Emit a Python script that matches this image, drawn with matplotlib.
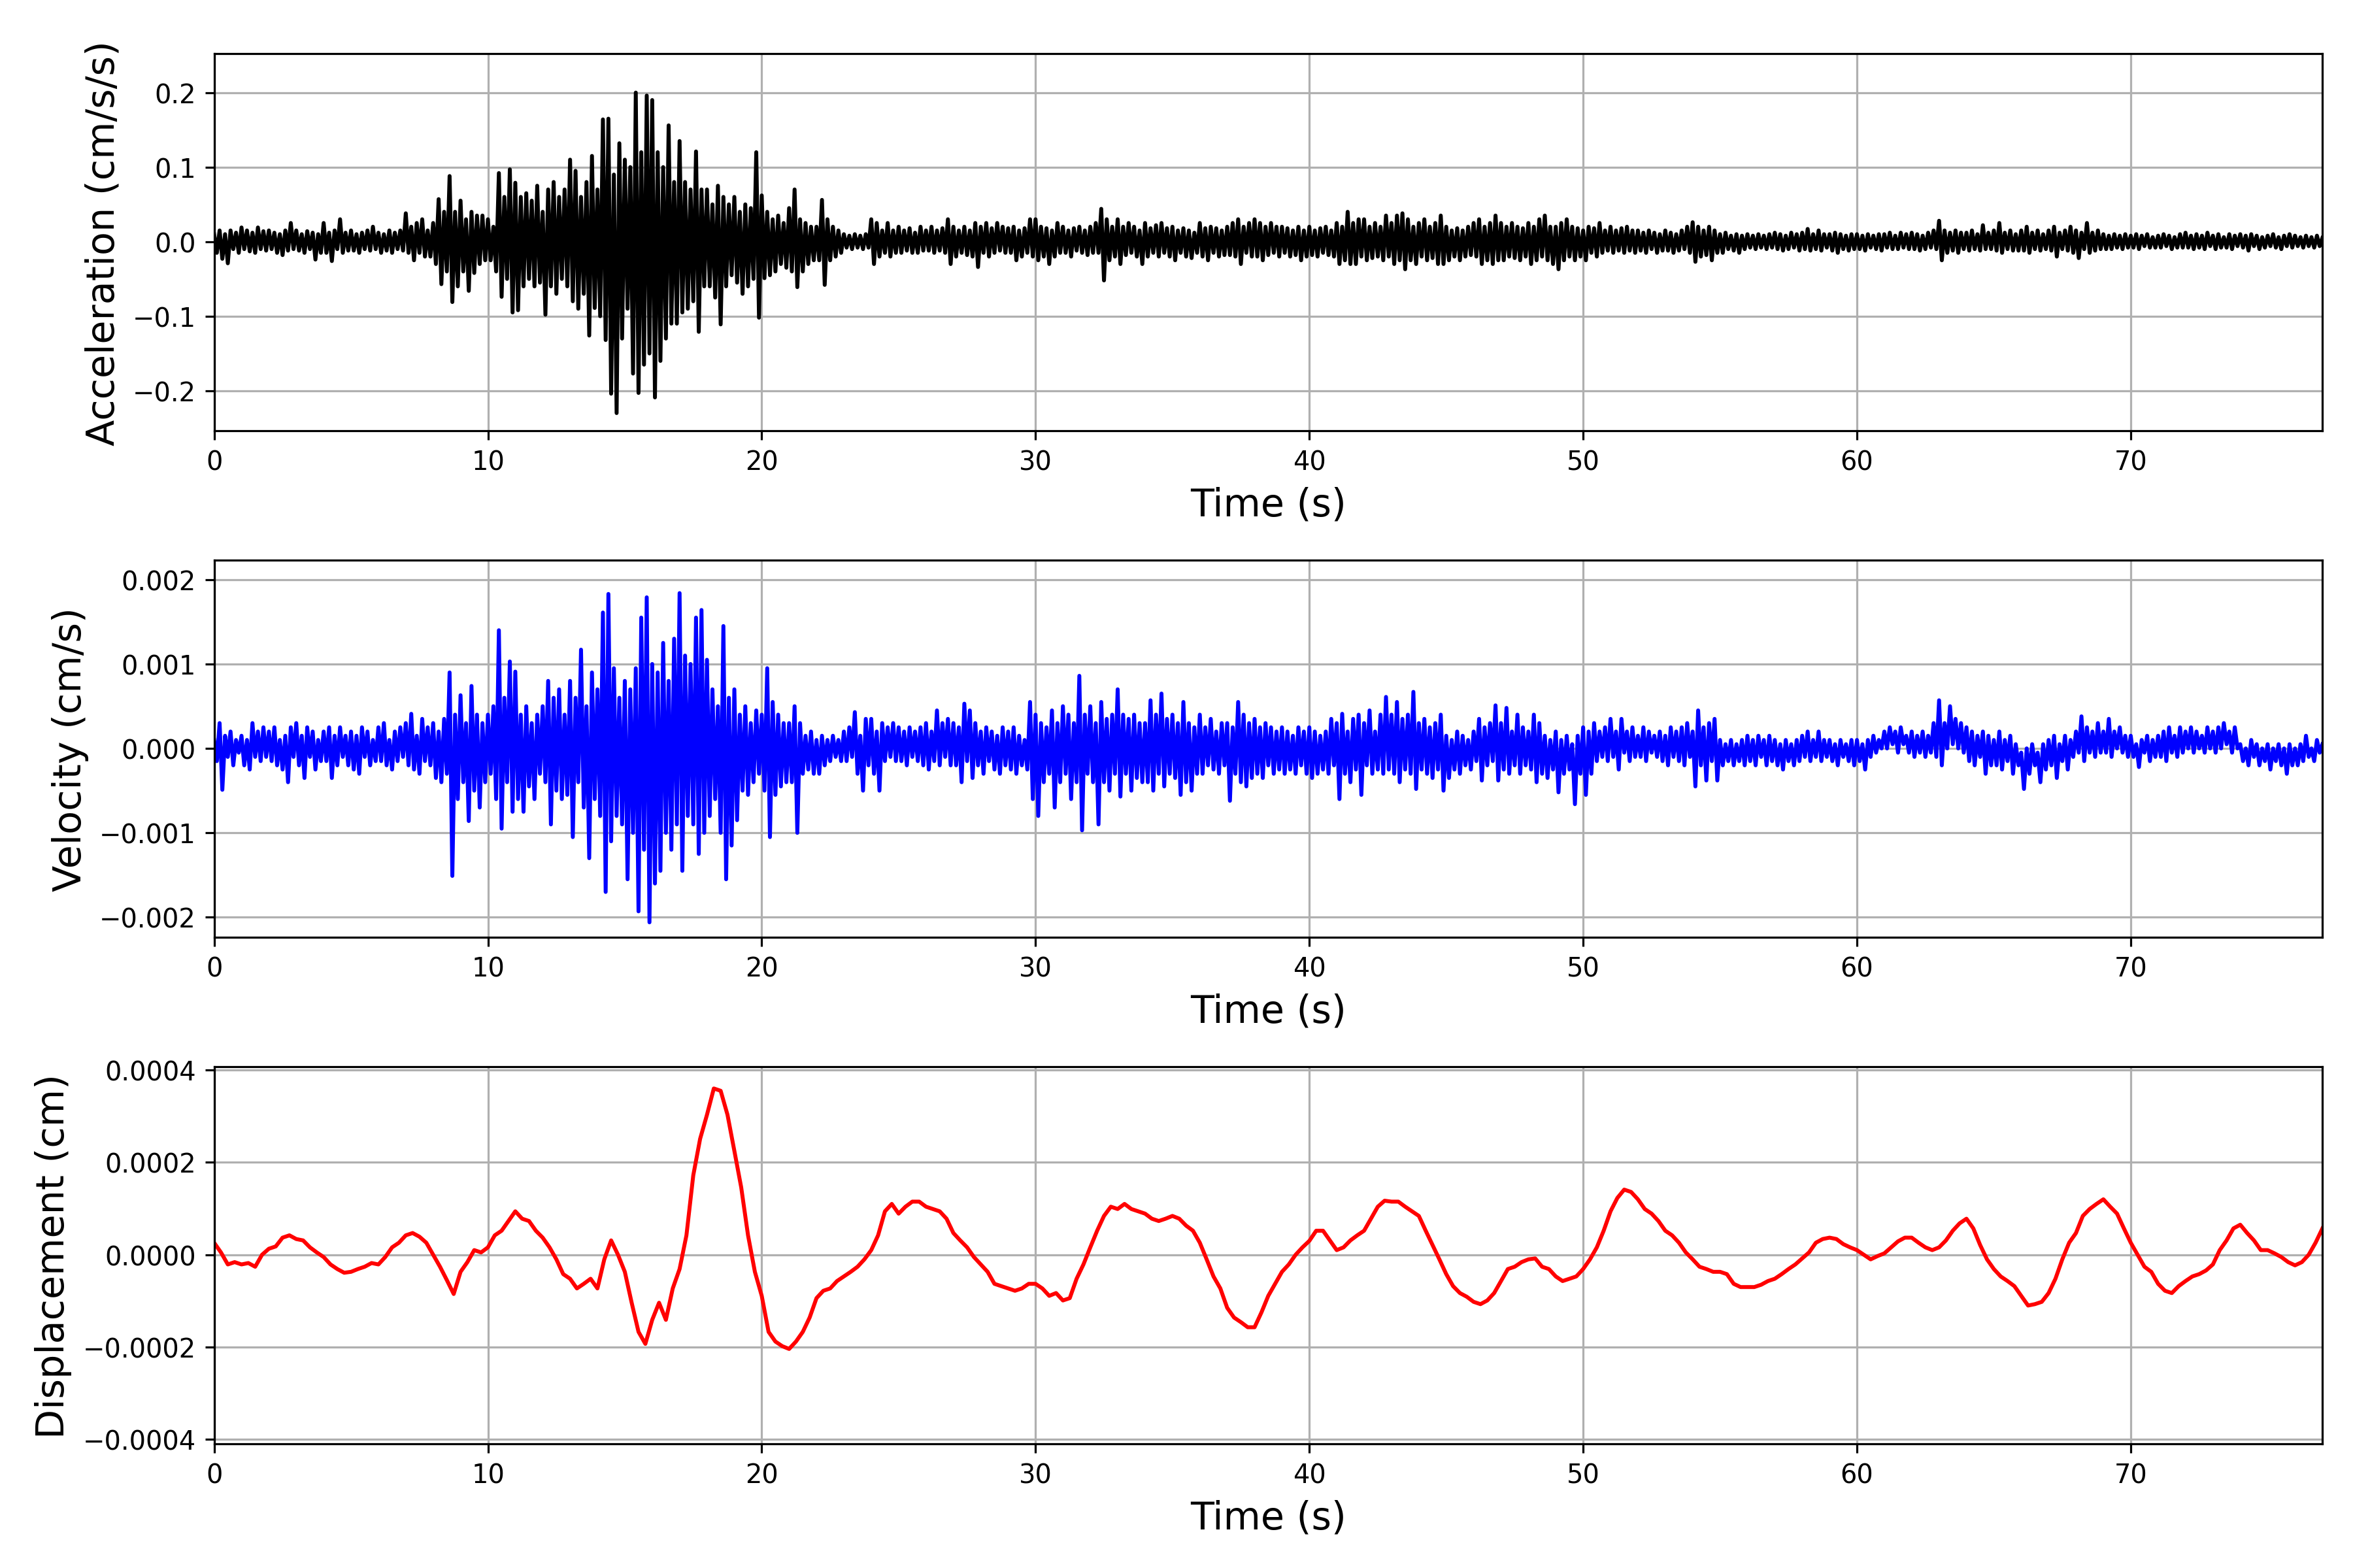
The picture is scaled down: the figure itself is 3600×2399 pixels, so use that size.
import numpy as np
from matplotlib import pyplot as plt


# Sampling steps of the traced records (s)
dtWave = 0.1
dtDisp = 0.25

acc = [
    10, -15, 15, -23, 10, -29, 15, -10, 12, -15,
    19, -10, 15, -13, 12, -15, 19, -10, 14, -12,
    15, -10, 12, -15, 10, -18, 15, -12, 25, -10,
    15, -12, 10, -15, 14, -10, 12, -24, 10, -15,
    25, -15, 12, -26, 15, -10, 30, -15, 12, -12,
    15, -12, 10, -15, 12, -10, 15, -12, 20, -10,
    12, -15, 10, -12, 15, -15, 12, -10, 15, -12,
    38, -15, 20, -25, 25, -15, 30, -20, 15, -20,
    25, -30, 57, -57, 40, -40, 88, -81, 40, -60,
    55, -40, 30, -66, 40, -42, 35, -30, 35, -25,
    30, -25, 20, -40, 92, -74, 60, -50, 97, -95,
    79, -92, 60, -60, 65, -50, 55, -60, 75, -55,
    40, -98, 70, -60, 80, -70, 60, -50, 70, -60,
    110, -80, 95, -90, 60, -70, 80, -126, 115, -89,
    70, -100, 164, -132, 165, -204, 90, -230, 132, -130,
    110, -90, 100, -177, 200, -203, 120, -165, 196, -150,
    190, -209, 120, -160, 100, -130, 156, -110, 80, -110,
    135, -95, 80, -90, 70, -80, 121, -121, 70, -60,
    70, -60, 50, -75, 75, -111, 60, -60, 50, -45,
    60, -55, 40, -70, 50, -60, 45, -50, 120, -102,
    62, -49, 40, -45, 30, -40, 35, -30, 25, -35,
    45, -40, 70, -61, 30, -40, 25, -30, 20, -25,
    20, -25, 56, -58, 30, -25, 20, -20, 15, -15,
    10, -8, 8, -10, 10, -8, 8, -10, 10, -8,
    30, -30, 25, -20, 15, -15, 25, -20, 15, -15,
    20, -15, 15, -12, 18, -15, 12, -15, 20, -12,
    15, -12, 20, -15, 15, -12, 18, -15, 30, -30,
    20, -20, 15, -15, 20, -18, 15, -20, 25, -34,
    20, -15, 25, -20, 18, -15, 25, -12, 20, -15,
    18, -15, 20, -25, 15, -20, 18, -15, 30, -20,
    30, -25, 20, -20, 18, -30, 15, -20, 25, -15,
    20, -15, 15, -20, 18, -12, 20, -15, 15, -18,
    20, -15, 25, -15, 44, -52, 30, -25, 20, -20,
    30, -30, 20, -18, 25, -15, 20, -20, 15, -30,
    25, -20, 18, -15, 22, -20, 25, -15, 18, -20,
    20, -25, 15, -15, 18, -20, 15, -22, 12, -15,
    25, -20, 18, -25, 20, -15, 18, -20, 15, -18,
    20, -18, 25, -20, 30, -30, 20, -15, 25, -20,
    30, -20, 25, -25, 20, -18, 25, -15, 20, -20,
    20, -15, 18, -20, 15, -18, 20, -25, 15, -20,
    20, -18, 15, -20, 18, -15, 20, -18, 15, -20,
    25, -30, 20, -25, 40, -30, 25, -30, 30, -20,
    30, -25, 20, -22, 25, -20, 20, -25, 35, -20,
    25, -30, 35, -25, 38, -37, 30, -25, 20, -30,
    25, -20, 30, -25, 20, -22, 25, -30, 35, -30,
    20, -25, 15, -20, 18, -25, 15, -20, 20, -18,
    25, -20, 30, -30, 20, -25, 25, -30, 35, -25,
    25, -25, 20, -20, 25, -22, 20, -25, 18, -20,
    25, -30, 20, -25, 30, -20, 35, -25, 20, -30,
    20, -37, 25, -25, 30, -20, 20, -25, 18, -20,
    15, -25, 20, -15, 18, -20, 25, -15, 15, -12,
    20, -15, 15, -12, 18, -15, 20, -12, 15, -15,
    15, -12, 12, -15, 15, -10, 12, -15, 10, -12,
    15, -12, 12, -15, 10, -12, 15, -10, 20, -15,
    26, -27, 20, -20, 15, -18, 20, -25, 15, -15,
    10, -15, 12, -10, 8, -12, 10, -15, 8, -10,
    10, -8, 8, -10, 10, -8, 8, -10, 10, -8,
    12, -10, 10, -12, 8, -10, 12, -8, 10, -12,
    12, -10, 17, -12, 10, -10, 15, -12, 10, -8,
    10, -12, 12, -15, 10, -10, 8, -12, 10, -10,
    10, -10, 8, -12, 10, -8, 8, -10, 10, -12,
    10, -8, 12, -10, 8, -10, 12, -8, 10, -10,
    12, -10, 10, -12, 8, -10, 12, -8, 15, -10,
    28, -25, 15, -15, 12, -12, 15, -15, 12, -10,
    12, -12, 15, -10, 10, -12, 22, -10, 12, -10,
    15, -12, 25, -15, 12, -10, 15, -12, 10, -12,
    15, -12, 20, -15, 12, -10, 15, -12, 10, -10,
    15, -12, 20, -20, 12, -10, 15, -12, 20, -15,
    15, -22, 12, -10, 25, -15, 12, -12, 15, -10,
    10, -10, 8, -10, 10, -8, 8, -10, 10, -8,
    8, -8, 10, -10, 8, -6, 10, -8, 6, -8,
    8, -8, 10, -6, 8, -10, 6, -8, 10, -8,
    12, -8, 8, -10, 10, -8, 8, -10, 12, -6,
    8, -10, 10, -8, 6, -8, 10, -10, 8, -6,
    10, -8, 8, -12, 10, -6, 8, -10, 6, -8,
    8, -6, 10, -8, 6, -10, 8, -6, 10, -8,
    8, -6, 6, -8, 8, -6, 6, -8, 8, -6,
    5,
]

vel = [
    10, -15, 30, -49, 15, -10, 20, -20, 10, -5,
    15, -20, 10, -25, 30, -10, 20, -15, 25, -10,
    20, -15, 25, -20, 10, -25, 15, -40, 25, -10,
    30, -20, 15, -35, 25, -10, 20, -25, 10, -15,
    20, -15, 25, -35, 15, -20, 25, -10, 15, -20,
    20, -25, 15, -30, 25, -10, 20, -20, 10, -15,
    25, -15, 30, -20, 10, -25, 20, -15, 25, -10,
    30, -20, 41, -25, 15, -30, 35, -15, 25, -20,
    30, -35, 20, -40, 35, -30, 90, -151, 40, -60,
    63, -40, 30, -86, 74, -50, 40, -70, 30, -40,
    40, -30, 50, -60, 140, -95, 60, -40, 103, -75,
    91, -60, 40, -75, 50, -45, 30, -60, 40, -30,
    50, -40, 80, -90, 60, -50, 70, -60, 40, -55,
    80, -105, 60, -40, 117, -70, 50, -130, 90, -60,
    70, -80, 161, -170, 183, -110, 95, -80, 60, -90,
    80, -155, 70, -100, 95, -193, 155, -120, 179, -206,
    100, -160, 90, -145, 125, -100, 80, -120, 130, -90,
    184, -145, 110, -80, 100, -90, 155, -125, 164, -100,
    105, -80, 70, -60, 50, -100, 145, -155, 60, -115,
    70, -85, 40, -50, 50, -55, 30, -40, 45, -30,
    40, -50, 95, -105, 55, -55, 40, -45, 30, -40,
    30, -40, 50, -100, 30, -30, 15, -25, 20, -30,
    10, -30, 15, -20, 10, -15, 15, -10, 10, -15,
    20, -15, 25, -10, 43, -30, 15, -50, 35, -20,
    35, -30, 20, -50, 30, -15, 25, -10, 30, -15,
    25, -15, 20, -20, 25, -10, 20, -15, 25, -20,
    30, -25, 20, -15, 45, -20, 30, -10, 35, -20,
    30, -20, 25, -40, 53, -15, 45, -35, 30, -20,
    20, -30, 25, -15, 20, -25, 15, -30, 25, -20,
    20, -25, 25, -30, 15, -20, 10, -25, 55, -60,
    40, -80, 30, -40, 25, -30, 45, -70, 30, -40,
    50, -30, 40, -60, 30, -40, 86, -97, 40, -30,
    50, -40, 30, -90, 55, -40, 35, -50, 40, -30,
    70, -57, 40, -30, 35, -50, 40, -35, 30, -40,
    30, -40, 57, -50, 40, -30, 65, -45, 35, -30,
    40, -35, 30, -55, 55, -40, 30, -50, 25, -30,
    40, -30, 25, -20, 35, -25, 20, -30, 30, -20,
    30, -62, 25, -30, 55, -40, 40, -45, 30, -35,
    35, -30, 25, -35, 30, -20, 25, -30, 20, -25,
    25, -30, 20, -25, 15, -30, 25, -20, 20, -30,
    25, -35, 20, -30, 15, -25, 20, -30, 35, -20,
    30, -60, 41, -30, 20, -40, 35, -25, 40, -55,
    30, -20, 45, -30, 20, -25, 40, -30, 61, -25,
    40, -30, 55, -40, 35, -25, 40, -30, 67, -48,
    30, -25, 35, -30, 25, -35, 30, -25, 40, -50,
    15, -35, 10, -25, 20, -30, 15, -20, 10, -25,
    20, -15, 35, -38, 25, -20, 30, -15, 51, -38,
    30, -25, 48, -30, 20, -20, 40, -30, 25, -20,
    20, -25, 40, -40, 30, -30, 15, -35, 10, -25,
    20, -52, 10, -30, 15, -25, 5, -66, 15, -30,
    25, -55, 20, -30, 30, -15, 20, -10, 25, -15,
    35, -10, 20, -25, 35, -5, 20, -15, 25, -10,
    15, -10, 25, -15, 20, -5, 15, -10, 20, -15,
    15, -20, 25, -10, 20, -15, 25, -20, 30, -10,
    20, -45, 45, -20, 25, -38, 30, -15, 35, -38,
    10, -20, 5, -15, 10, -20, 5, -15, 10, -20,
    15, -15, 10, -20, 15, -10, 10, -20, 15, -15,
    10, -20, 5, -25, 10, -15, 5, -20, 10, -15,
    15, -10, 20, -15, 10, -10, 20, -15, 10, -10,
    10, -15, 5, -20, 10, -10, 5, -15, 10, -20,
    10, -15, 5, -25, 10, -10, 15, -5, 10, 0,
    20, 0, 25, 5, 20, -5, 25, 5, 15, -5,
    20, -10, 15, -5, 20, -10, 15, -5, 30, -10,
    57, -20, 30, 0, 50, 5, 35, 0, 30, -5,
    25, -15, 20, -20, 15, -10, 20, -30, 15, -20,
    10, -20, 20, -25, 10, -15, 15, -30, 5, -20,
    -5, -48, 0, -30, 5, -20, -5, -40, 5, -25,
    10, -20, 15, -35, 5, -15, 15, -25, 10, -10,
    20, -5, 38, -15, 25, -5, 20, -10, 30, -5,
    20, -5, 35, -10, 20, 0, 25, -5, 15, -10,
    15, -10, 5, -22, 10, -5, 15, -15, 10, -10,
    15, -10, 20, -15, 25, -5, 15, -10, 25, -5,
    20, 0, 25, -5, 20, 0, 15, -5, 25, 0,
    20, -5, 25, 0, 30, 5, 20, -5, 25, 0,
    5, -15, 0, -20, 10, -10, 5, -20, 0, -15,
    5, -25, 0, -15, 5, -20, 0, -30, 5, -20,
    0, -20, 5, -15, 15, -10, 0, -15, 10, -5,
    5,
]

disp = [
    26, 5, -21, -16, -21, -18, -26, 0, 13, 18, 37, 42,
    34, 31, 16, 5, -5, -21, -31, -39, -37, -31, -26, -18,
    -21, -5, 16, 26, 42, 47, 39, 26, 0, -26, -55, -85,
    -37, -16, 10, 5, 16, 42, 52, 73, 94, 78, 73, 52,
    37, 16, -10, -42, -52, -73, -63, -52, -73, -10, 31, 0,
    -37, -104, -167, -193, -141, -104, -141, -73, -31, 42, 172, 251,
    303, 360, 355, 303, 225, 146, 42, -37, -89, -167, -188, -198,
    -204, -188, -167, -136, -94, -78, -73, -57, -47, -37, -26, -10,
    10, 42, 94, 110, 89, 104, 115, 115, 104, 99, 94, 78,
    47, 31, 16, -5, -21, -37, -63, -68, -73, -78, -73, -63,
    -63, -73, -89, -83, -99, -94, -52, -21, 16, 52, 84, 104,
    99, 110, 99, 94, 89, 78, 73, 78, 84, 78, 63, 52,
    26, -10, -47, -73, -115, -136, -146, -157, -157, -125, -89, -63,
    -37, -21, 0, 16, 30, 52, 52, 31, 10, 16, 31, 42,
    52, 78, 104, 117, 115, 115, 104, 94, 84, 52, 21, -10,
    -42, -68, -83, -91, -102, -107, -99, -83, -57, -31, -26, -16,
    -10, -8, -26, -31, -47, -57, -52, -47, -31, -10, 16, 52,
    94, 123, 141, 136, 120, 99, 89, 73, 52, 42, 26, 5,
    -10, -26, -31, -37, -37, -42, -63, -70, -70, -70, -65, -57,
    -52, -42, -31, -21, -8, 5, 26, 34, 37, 34, 23, 16,
    10, 0, -10, -3, 3, 16, 29, 37, 37, 26, 16, 10,
    16, 31, 52, 68, 78, 57, 21, -10, -31, -47, -57, -68,
    -89, -110, -107, -102, -83, -52, -10, 26, 47, 84, 99, 110,
    120, 104, 89, 57, 26, 0, -26, -37, -63, -78, -83, -68,
    -57, -47, -42, -34, -21, 10, 31, 57, 65, 47, 31, 10,
    10, 3, -5, -16, -23, -16, 0, 26, 57,
]


# Function to draw one trace with the common axis styling
def plotTrace(ax, time, values, color, ylabel, ylim):
    ax.plot(time, values, color=color, linewidth=1.5)
    ax.set_xlim(0, 77)
    ax.set_ylim(ylim)
    ax.set_xlabel('Time (s)', fontsize=14.7)
    ax.set_ylabel(ylabel, fontsize=14.7)
    ax.grid(True)


accValues = np.array(acc) * 1e-3
velValues = np.array(vel) * 1e-5
dispValues = np.array(disp) * 1e-6

tAcc = np.arange(len(accValues)) * dtWave
tVel = np.arange(len(velValues)) * dtWave
tDisp = np.arange(len(dispValues)) * dtDisp

fig, axes = plt.subplots(3, 1, figsize=(12.5, 8.3333))
fig.subplots_adjust(left=0.091, right=0.987, top=0.9654, bottom=0.079, hspace=0.3426)

plotTrace(axes[0], tAcc, accValues, 'k', 'Acceleration (cm/s/s)', (-0.254, 0.2523))
plotTrace(axes[1], tVel, velValues, 'b', 'Velocity (cm/s)', (-0.00224, 0.00223))
plotTrace(axes[2], tDisp, dispValues, 'r', 'Displacement (cm)', (-0.00041, 0.000407))

fig.savefig('out.png', dpi=288)
